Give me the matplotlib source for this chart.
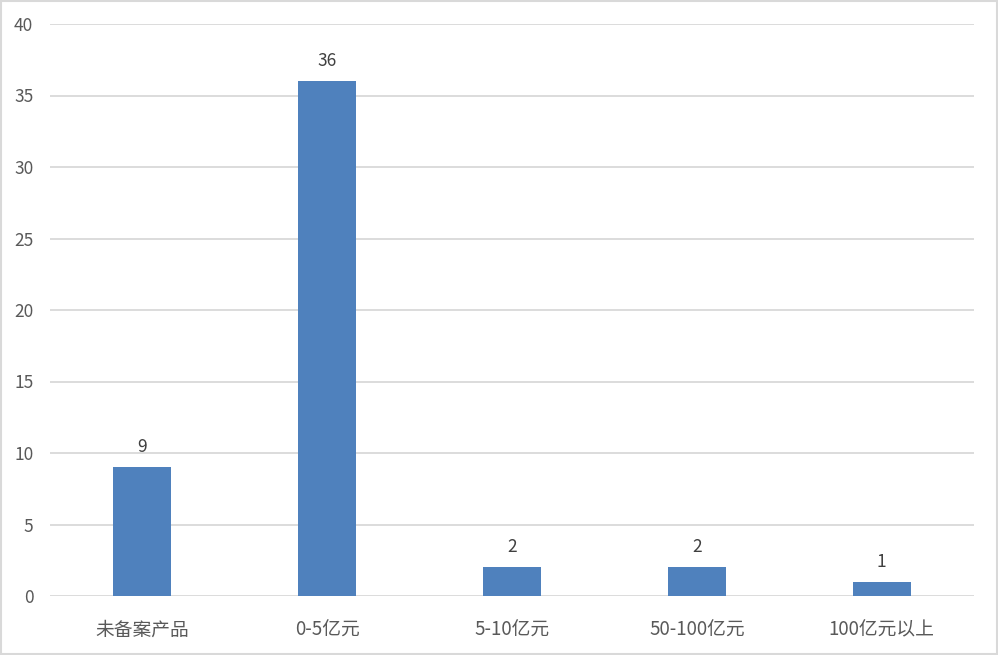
import matplotlib
matplotlib.use("Agg")
import matplotlib.pyplot as plt
from matplotlib.patches import Rectangle

plt.rcParams['font.family'] = ['Noto Sans CJK SC', 'DejaVu Sans']

# Données
categories = ["未备案产品", "0-5亿元", "5-10亿元", "50-100亿元", "100亿元以上"]
counts = [9, 36, 2, 2, 1]
y_ticks = [0, 5, 10, 15, 20, 25, 30, 35, 40]

bar_color = "#4F81BD"
text_color = "#595959"
grid_color = "#D9D9D9"

fig = plt.figure(figsize=(9.98, 6.55), dpi=100)
ax = fig.add_axes([50 / 998, 59 / 655, 924 / 998, 572 / 655])

x = list(range(len(categories)))
bars = ax.bar(x, counts, width=0.314, color=bar_color, zorder=3)

# Étiquettes au-dessus des barres
for xi, v in zip(x, counts):
    ax.annotate(str(v), (xi, v), xytext=(0, 11), textcoords="offset pixels",
                ha="center", va="bottom", fontsize=12.5, color="#404040")

ax.set_xlim(-0.5, len(categories) - 0.5)
ax.set_ylim(0, 40)
ax.set_yticks(y_ticks)
ax.set_xticks(x)
ax.set_xticklabels(categories)
ax.tick_params(axis="both", length=0, colors=text_color, labelsize=12.5)
ax.tick_params(axis="x", pad=17, labelsize=13.5)
ax.tick_params(axis="y", pad=12)
ax.yaxis.grid(True, color=grid_color, linewidth=1.3, zorder=0)
for s in ax.spines.values():
    s.set_visible(False)

# Cadre gris autour de la figure
fig.patches.append(Rectangle((0.001, 0.0015), 0.998, 0.997, transform=fig.transFigure,
                             fill=False, edgecolor="#D9D9D9", linewidth=1.5))

fig.savefig("out.png", dpi=100)
